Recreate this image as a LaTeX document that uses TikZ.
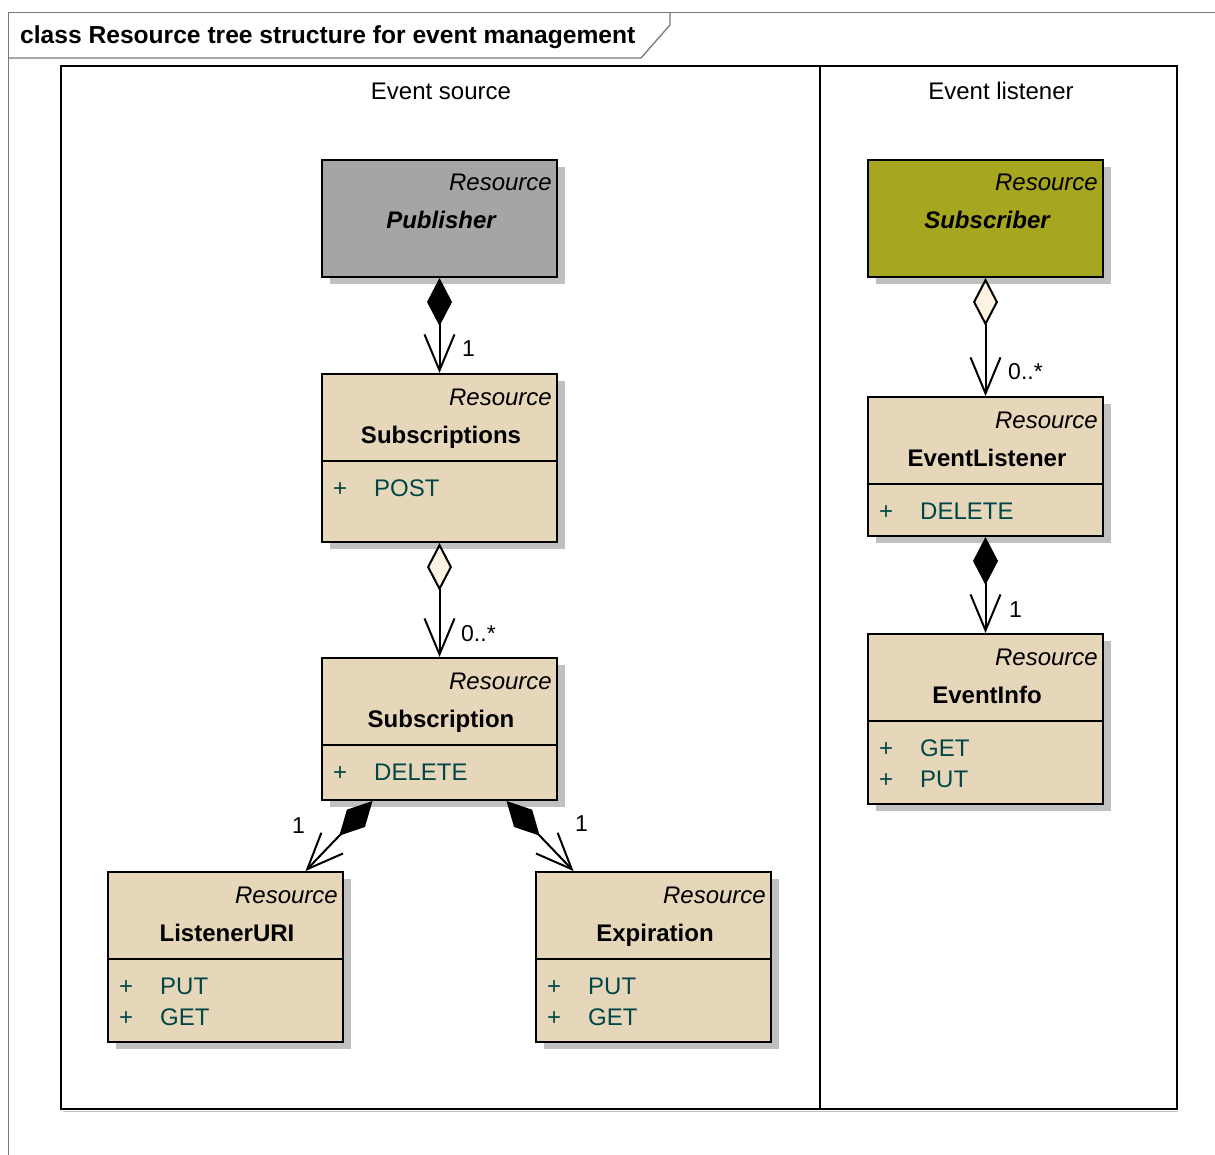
\documentclass[tikz,border=0pt]{standalone}
\usepackage{fontspec}
\setmainfont{Liberation Sans}
\usetikzlibrary{arrows.meta,shadows}

\definecolor{beige}{RGB}{230,215,187}
\definecolor{pubgray}{RGB}{165,165,165}
\definecolor{olive}{RGB}{166,166,33}
\definecolor{shadowgray}{RGB}{192,192,192}
\definecolor{opcolor}{RGB}{0,70,70}
\definecolor{cream}{RGB}{253,243,227}
\definecolor{framegray}{RGB}{120,120,120}

\tikzset{
  box/.style={draw=black, line width=2pt, rectangle, inner sep=0pt,
    minimum width=235pt,
    drop shadow={shadow xshift=8pt, shadow yshift=-7pt, fill=shadowgray, opacity=1}},
  stereo/.style={font=\fontsize{24}{28}\selectfont\itshape, inner sep=0pt},
  cname/.style={font=\fontsize{24}{28}\selectfont\bfseries, inner sep=0pt},
  op/.style={font=\fontsize{24}{28}\selectfont, text=opcolor, inner sep=0pt},
  mult/.style={font=\fontsize{23}{27}\selectfont, inner sep=0pt},
  heading/.style={font=\fontsize{24}{28}\selectfont, inner sep=0pt},
  titletext/.style={font=\fontsize{24.6}{29}\selectfont\bfseries, inner sep=0pt},
  divider/.style={line width=2pt},
  barb/.tip={Straight Barb[length=36pt,width=30pt,line width=2pt]},
  compos/.style={line width=2pt,
    {Diamond[length=48pt,width=25pt,fill=black,line width=2pt]}-barb},
  aggr/.style={line width=2pt,
    {Diamond[length=48pt,width=25pt,fill=cream,line width=2pt]}-barb},
}

% resource class box: name, north-west corner, height, fill, class name
\newcommand\resclass[5]{%
  \node[box, fill=#4, minimum height=#3, anchor=north west] (#1) at #2 {};
  \node[stereo, anchor=base east] (#1-stereo) at ([xshift=-6pt,yshift=-32pt]#1.north east) {Resource};
  \node[cname, anchor=base] (#1-name) at ([xshift=1.5pt,yshift=-70pt]#1.north) {#5};
}
% line separating the operations compartment
\newcommand\compartment[1]{%
  \draw[divider] ([yshift=-88pt]#1.north west) -- ([yshift=-88pt]#1.north east);
}
% public operation: node, index, vertical offset of baseline, text
\newcommand\operation[4]{%
  \node[op, anchor=base west] (#1-op#2) at ([xshift=12pt,yshift=-#3pt]#1.north west) {\makebox[41pt][l]{+}#4};
}

\begin{document}
\begin{tikzpicture}[x=1pt,y=-1pt]
\useasboundingbox (0,0) rectangle (1215,1155);
\fill[white] (0,0) rectangle (1215,1155);

% diagram frame with its name tab
\draw[framegray, line width=1.3pt] (8.5,1155) -- (8.5,12.5) -- (1215,12.5);
\draw[framegray, line width=1.3pt] (8.5,58) -- (641,58) -- (670,25) -- (670,12.5);
\node[titletext, anchor=base west] (title) at (20,43.5) {class Resource tree structure for event management};

% partitions
\draw[shadowgray, line width=1.5pt] (63,1111.5) -- (1178,1111.5);
\draw[line width=2pt] (61,66) rectangle (1177,1109);
\draw[line width=2pt] (820,66) -- (820,1109);
\node[heading, anchor=base] (src) at (441,99.5) {Event source};
\node[heading, anchor=base] (lst) at (1001,99.5) {Event listener};

% event source side
\resclass{pub}{(321,159)}{117pt}{pubgray}{\itshape Publisher}
\resclass{subs}{(321,373)}{168pt}{beige}{Subscriptions}
\compartment{subs}
\operation{subs}{1}{123}{POST}
\resclass{sub}{(321,657)}{142pt}{beige}{Subscription}
\compartment{sub}
\operation{sub}{1}{123}{DELETE}
\resclass{luri}{(107,871)}{170pt}{beige}{ListenerURI}
\compartment{luri}
\operation{luri}{1}{123}{PUT}
\operation{luri}{2}{154}{GET}
\resclass{exp}{(535,871)}{170pt}{beige}{Expiration}
\compartment{exp}
\operation{exp}{1}{123}{PUT}
\operation{exp}{2}{154}{GET}

% event listener side
\resclass{subr}{(867,159)}{117pt}{olive}{\itshape Subscriber}
\resclass{evl}{(867,396)}{139pt}{beige}{EventListener}
\compartment{evl}
\operation{evl}{1}{123}{DELETE}
\resclass{evi}{(867,633)}{170pt}{beige}{EventInfo}
\compartment{evi}
\operation{evi}{1}{123}{GET}
\operation{evi}{2}{154}{PUT}

% associations
\draw[compos] (pub.south) -- (subs.north);
\draw[aggr] (subs.south) -- (sub.north);
\draw[compos] ([xshift=-67pt]sub.south) -- ([xshift=80pt]luri.north);
\draw[compos] ([xshift=67pt]sub.south) -- ([xshift=-80pt]exp.north);
\draw[aggr] (subr.south) -- (evl.north);
\draw[compos] (evl.south) -- (evi.north);

% multiplicities
\node[mult, anchor=base west] (m-subs) at (462,356) {1};
\node[mult, anchor=base west] (m-sub) at (461,641) {0..*};
\node[mult, anchor=base west] (m-luri) at (292,833) {1};
\node[mult, anchor=base west] (m-exp) at (575,831) {1};
\node[mult, anchor=base west] (m-evl) at (1008,380) {0..*};
\node[mult, anchor=base west] (m-evi) at (1009,617) {1};
\end{tikzpicture}
\end{document}
